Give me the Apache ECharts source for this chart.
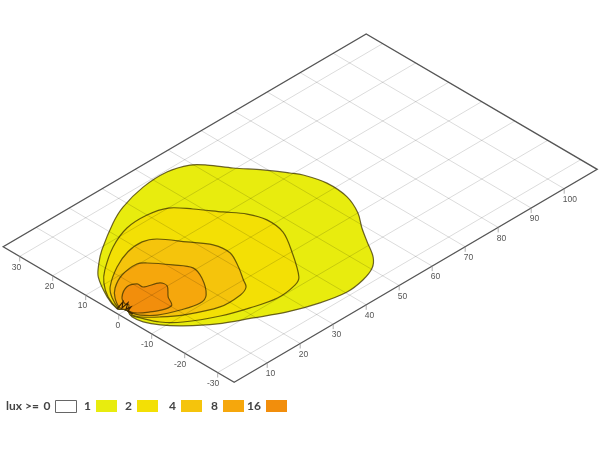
<!DOCTYPE html>
<html>
<head>
<meta charset="utf-8">
<style>html,body{margin:0;padding:0;background:#fff}#c{width:600px;height:450px}</style>
<script src="https://cdn.jsdelivr.net/npm/echarts@6/dist/echarts.min.js"></script>
</head>
<body>
<div id="c"></div>
<script>
// Ground-plane limits (metres) and tick values
const xRange = [0, 110];
const yRange = [-35, 35];
const xTicks = [10, 20, 30, 40, 50, 60, 70, 80, 90, 100];
const yTicks = [-30, -20, -10, 0, 10, 20, 30];
const levels = ['0', '1', '2', '4', '8', '16'];
const levelColors = ['#ffffff', '#e8ec0e', '#f3e005', '#f5c40c', '#f6a70c', '#f28e0c'];

// Iso-lux contours as [x, y] on the ground plane
const lux1 = [[1.2,1.7],[2.8,6.3],[6.6,12.8],[10.3,16.3],[14.1,19.2],[22.8,24.5],[28.4,27.1],[36.6,29.2],[44.1,29.5],[49.4,27.8],[52,25.2],[55.2,20.5],[59.2,15.5],[62.5,10.6],[64,8.1],[65.5,2.4],[65,-4.2],[62.5,-10],[59.2,-14.5],[56.4,-18.9],[53.4,-23.7],[50.4,-26.4],[45.9,-28.1],[40.4,-28.8],[33.5,-27.5],[26.2,-24.9],[19.5,-21.3],[12.5,-17.4],[6.8,-12.7],[3.6,-9],[1.8,-5.6],[1.4,-2.6],[2.3,-0.5],[1.9,0.9]];
const lux2 = [[1.3,1.5],[2.9,6.1],[5.9,10.4],[9.4,13.6],[16.6,18.3],[23.6,21.1],[30,21.4],[35,20],[38.5,16],[42.3,10.7],[45.4,6.5],[46.9,2],[46.2,-3.6],[42.4,-10.1],[37,-17.6],[34.3,-19.1],[28.3,-19.8],[21.6,-18.2],[15,-15.8],[7.8,-11.7],[4.3,-8.2],[2.4,-4.2],[1.6,-1.9],[2.3,-0.5],[1.9,0.9]];
const lux4 = [[1.5,1.4],[3.3,5.3],[5.8,8.4],[12,12.5],[17.6,14.8],[22.3,15.2],[25.3,13.7],[29.1,8.4],[32.3,3.7],[32.8,-1],[30.4,-5.9],[27.8,-10],[26.4,-12.2],[23.5,-13.4],[17.3,-13.4],[9.6,-9.9],[5.6,-6.9],[2.6,-3.9],[1.9,-2.2],[2.3,-0.5],[1.9,0.9]];
const lux8 = [[1.9,1.5],[3.7,4.8],[6.3,7.4],[10.7,9.7],[15.8,10.3],[17.6,9],[21,4.6],[23.3,0.8],[22,-3.2],[18.3,-8.2],[15.3,-9.4],[10.5,-8.2],[5.7,-6],[3.1,-3.4],[2.4,-1.6],[2.5,-0.3]];
const lux16 = [[3.7,1.8],[5,4],[8.4,5.9],[10.7,5.1],[10.8,3.4],[14.4,1.9],[14.7,0],[12,-3],[10.5,-5.6],[8.4,-5.6],[5.4,-4.1],[2.9,-2.1],[2.6,-0.3],[4,0.9]];
const nearField = [[1.2,1.7],[3.9,2.6],[2.2,1.2],[4.4,1.6],[2.5,0.3],[3.8,0.1],[2.3,-0.5],[2.3,-2]];
const frame = [[xRange[0],yRange[0]],[xRange[1],yRange[0]],[xRange[1],yRange[1]],[xRange[0],yRange[1]]];

// Isometric projection of the ground plane onto the two value axes
const proj = p => [p[0] - p[1], p[0] + p[1]];
const FONT = 'Liberation Sans';

function areaSeries(name, pts, color, style, smooth) {
  const data = pts.map(proj);
  return {
    type: 'custom', name, coordinateSystem: 'cartesian2d', silent: true, clip: false,
    animation: false, itemStyle: { color }, encode: { x: 0, y: 1 }, data,
    renderItem(params, api) {
      if (params.dataIndex !== 0) return null;
      return {
        type: 'polygon',
        shape: { points: data.map(d => api.coord(d)), smooth },
        style: Object.assign({ fill: color }, style)
      };
    }
  };
}

const gridSegs = [
  ...xTicks.map(t => [...proj([t, yRange[0]]), ...proj([t, yRange[1]])]),
  ...yTicks.map(t => [...proj([xRange[0], t]), ...proj([xRange[1], t])])
];

function tickSeries(ticks, toPoint, align, dx) {
  return {
    type: 'custom', silent: true, clip: false, animation: false, encode: { x: 0, y: 1 },
    data: ticks.map(t => [...proj(toPoint(t)), t]),
    renderItem(params, api) {
      const c = api.coord([api.value(0), api.value(1)]);
      return {
        type: 'group',
        children: [
          { type: 'line', shape: { x1: c[0], y1: c[1], x2: c[0], y2: c[1] + 5 }, style: { stroke: '#999', lineWidth: 0.8 } },
          { type: 'text', x: c[0] + dx, y: c[1] + 11, style: { text: String(api.value(2)), fontFamily: FONT, fontSize: 8.5, fill: '#555', align, verticalAlign: 'middle' } }
        ]
      };
    }
  };
}

const lineStyle = { stroke: 'rgba(60,50,0,0.75)', lineWidth: 1.2 };
const legendRight = [77, 117, 158, 202, 244, 287];
const legendFont = { fontFamily: 'Lato', fontSize: 12, fontWeight: 'bold', color: '#444' };

const option = {
  animation: false,
  backgroundColor: '#fff',
  title: { text: 'lux >=', left: 6, top: 400, padding: 0, textStyle: legendFont },
  legend: levels.map((name, i) => ({
    data: [i === 0
      ? { name, icon: 'rect', itemStyle: { color: '#fff', borderColor: '#666', borderWidth: 1 } }
      : { name, icon: 'rect' }],
    right: 600 - legendRight[i], top: 400, padding: 0, align: 'right', itemWidth: 21, itemHeight: 12,
    selectedMode: false, textStyle: legendFont
  })),
  grid: { left: 3.2, top: 33.9, width: 594, height: 348.3 },
  xAxis: { type: 'value', min: -35, max: 145, show: false },
  yAxis: { type: 'value', min: -35, max: 145, show: false },
  series: [
    areaSeries('0', frame, levelColors[0], { stroke: '#555', lineWidth: 1.3 }, 0),
    areaSeries('1', lux1, levelColors[1], lineStyle, 0.33),
    areaSeries('2', lux2, levelColors[2], lineStyle, 0.33),
    areaSeries('4', lux4, levelColors[3], lineStyle, 0.33),
    areaSeries('8', lux8, levelColors[4], lineStyle, 0.33),
    areaSeries('16', lux16, levelColors[5], lineStyle, 0.33),
    {
      type: 'custom', silent: true, clip: false, animation: false, encode: { x: [0, 2], y: [1, 3] }, data: gridSegs,
      renderItem(params, api) {
        const a = api.coord([api.value(0), api.value(1)]);
        const b = api.coord([api.value(2), api.value(3)]);
        return { type: 'line', shape: { x1: a[0], y1: a[1], x2: b[0], y2: b[1] }, style: { stroke: 'rgba(0,0,0,0.14)', lineWidth: 1 } };
      }
    },
    {
      type: 'custom', silent: true, clip: false, animation: false, encode: { x: 0, y: 1 }, data: nearField.map(proj),
      renderItem(params, api) {
        if (params.dataIndex !== 0) return null;
        return { type: 'polyline', shape: { points: nearField.map(p => api.coord(proj(p))) }, style: { stroke: '#3a2200', lineWidth: 1.2, fill: 'none' } };
      }
    },
    tickSeries(xTicks, t => [t, yRange[0]], 'left', -1.5),
    tickSeries(yTicks, t => [xRange[0], t], 'right', 1.5)
  ]
};

const chart = echarts.init(document.getElementById('c'), null, { renderer: 'canvas', width: 600, height: 450 });
chart.setOption(option);
</script>
</body>
</html>
